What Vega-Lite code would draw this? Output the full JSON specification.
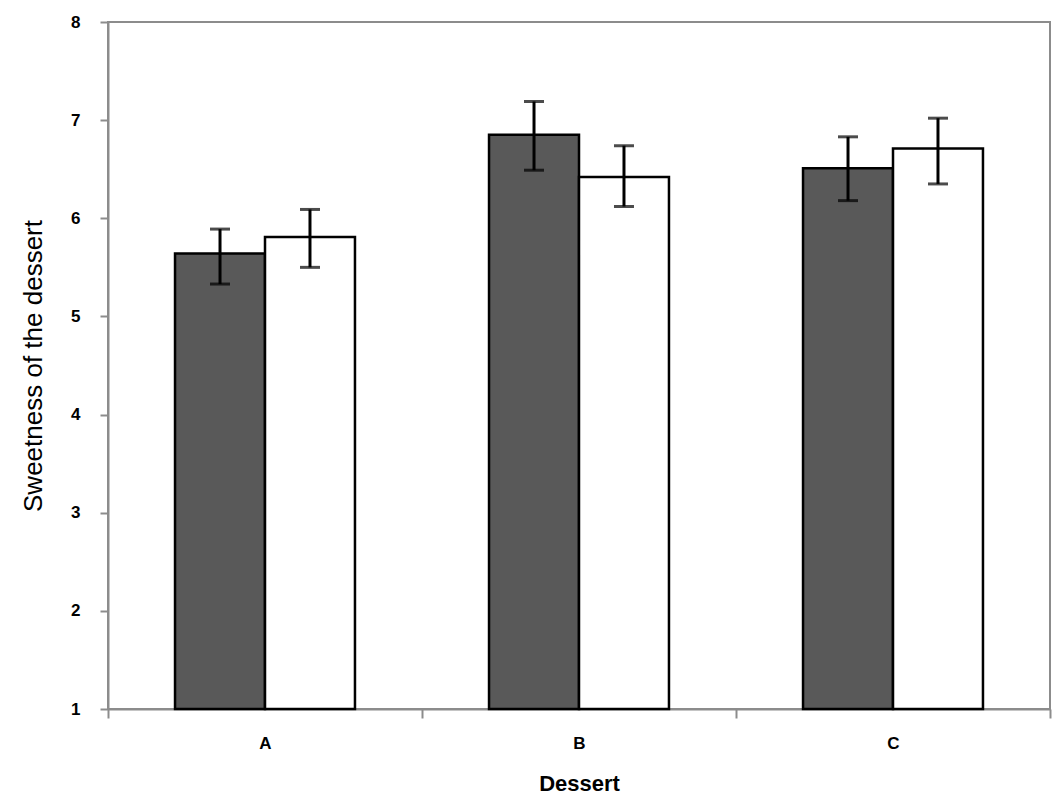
{
  "$schema": "https://vega.github.io/schema/vega-lite/v6.json",
  "width": 942,
  "height": 687,
  "autosize": "none",
  "padding": {"left": 108, "top": 22, "right": 13, "bottom": 101},
  "background": "white",
  "config": {
    "view": {"stroke": "#8c8c8c", "strokeWidth": 2},
    "font": "Liberation Sans",
    "axis": {
      "domainColor": "#8c8c8c",
      "domainWidth": 2,
      "tickColor": "#8c8c8c",
      "tickWidth": 2,
      "grid": false,
      "labelColor": "#000000",
      "titleColor": "#000000",
      "labelFont": "Liberation Sans",
      "titleFont": "Liberation Sans"
    }
  },
  "data": {
    "values": [
      {"dessert": "A", "group": "Group 1", "mean": 5.64, "lo": 5.33, "hi": 5.89},
      {"dessert": "A", "group": "Group 2", "mean": 5.81, "lo": 5.50, "hi": 6.09},
      {"dessert": "B", "group": "Group 1", "mean": 6.85, "lo": 6.49, "hi": 7.19},
      {"dessert": "B", "group": "Group 2", "mean": 6.42, "lo": 6.12, "hi": 6.74},
      {"dessert": "C", "group": "Group 1", "mean": 6.51, "lo": 6.18, "hi": 6.83},
      {"dessert": "C", "group": "Group 2", "mean": 6.71, "lo": 6.35, "hi": 7.02}
    ]
  },
  "encoding": {
    "x": {
      "field": "dessert",
      "type": "nominal",
      "title": "Dessert",
      "scale": {"paddingInner": 0, "paddingOuter": 0},
      "axis": {
        "labelAngle": 0,
        "tickBand": "extent",
        "tickSize": 9,
        "labelPadding": 17,
        "labelFontSize": 17,
        "labelFontWeight": "bold",
        "titleFontSize": 22,
        "titleFontWeight": "bold",
        "titlePadding": 22
      }
    },
    "xOffset": {
      "field": "group",
      "type": "nominal",
      "scale": {"paddingInner": 0, "paddingOuter": 0.745}
    }
  },
  "layer": [
    {
      "mark": {"type": "bar", "stroke": "#000000", "strokeWidth": 2.5},
      "encoding": {
        "y": {
          "field": "mean",
          "type": "quantitative",
          "title": "Sweetness of the dessert",
          "scale": {"domain": [1, 8], "zero": false, "nice": false},
          "axis": {
            "values": [1, 2, 3, 4, 5, 6, 7, 8],
            "format": "d",
            "tickSize": 8,
            "labelPadding": 20,
            "labelFontSize": 17,
            "labelFontWeight": "bold",
            "titleFontSize": 26,
            "titleFontWeight": "normal",
            "titlePadding": 24
          }
        },
        "y2": {"datum": 1},
        "fill": {
          "field": "group",
          "type": "nominal",
          "legend": null,
          "scale": {"range": ["#595959", "#ffffff"]}
        }
      }
    },
    {
      "mark": {"type": "rule", "color": "#000000", "strokeWidth": 3},
      "encoding": {
        "y": {"field": "lo", "type": "quantitative"},
        "y2": {"field": "hi"}
      }
    },
    {
      "mark": {"type": "tick", "color": "#000000", "thickness": 3, "size": 20, "orient": "horizontal"},
      "encoding": {
        "y": {"field": "lo", "type": "quantitative"}
      }
    },
    {
      "mark": {"type": "tick", "color": "#000000", "thickness": 3, "size": 20, "orient": "horizontal"},
      "encoding": {
        "y": {"field": "hi", "type": "quantitative"}
      }
    }
  ]
}
